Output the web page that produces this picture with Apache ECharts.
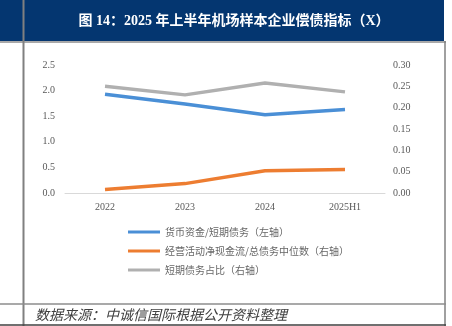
<!DOCTYPE html>
<html><head><meta charset="utf-8">
<script src="https://cdn.jsdelivr.net/npm/echarts@6/dist/echarts.min.js"></script>
<style>html,body{margin:0;padding:0;background:#fff}#c{width:452px;height:326px}</style>
</head><body><div id="c"></div>
<script>
const categories = ['2022', '2023', '2024', '2025H1'];
const cashToShortDebt = [1.93, 1.74, 1.53, 1.63];
const opCashToTotalDebt = [0.008, 0.022, 0.052, 0.055];
const shortDebtShare = [0.250, 0.230, 0.258, 0.237];
const seriesNames = ['货币资金/短期债务（左轴）', '经营活动净现金流/总债务中位数（右轴）', '短期债务占比（右轴）'];
const titleText = '图 14：2025 年上半年机场样本企业偿债指标（X）';
const sourceText = '数据来源：中诚信国际根据公开资料整理';

const chart = echarts.init(document.getElementById('c'));
const serif = '"Liberation Serif","Noto Sans CJK SC",serif';
const cjk = '"Noto Sans CJK SC",sans-serif';
chart.setOption({
  animation: false,
  grid: {left: 65, right: 67, top: 65, bottom: 133},
  graphic: [
    {type: 'rect', shape: {x: 0, y: 0, width: 444, height: 41}, style: {fill: '#043670'}},
    {type: 'line', shape: {x1: 0, y1: 42, x2: 446, y2: 42}, style: {stroke: '#8c8c8c', lineWidth: 1.5}},
    {type: 'line', shape: {x1: 23.5, y1: 0, x2: 23.5, y2: 326}, style: {stroke: '#808080', lineWidth: 2}},
    {type: 'line', shape: {x1: 445, y1: 41, x2: 445, y2: 326}, style: {stroke: '#808080', lineWidth: 1.5}},
    {type: 'line', shape: {x1: 0, y1: 304, x2: 446, y2: 304}, style: {stroke: '#8c8c8c', lineWidth: 1.5}},
    {type: 'line', shape: {x1: 0, y1: 325, x2: 446, y2: 325}, style: {stroke: '#404040', lineWidth: 1.5}},
    {type: 'text', x: 234, y: 21, style: {text: titleText, fill: '#fff', font: 'bold 14px ' + serif, align: 'center', verticalAlign: 'middle'}},
    {type: 'text', x: 35, y: 315, style: {text: sourceText, fill: '#404040', font: 'italic 14px ' + cjk, align: 'left', verticalAlign: 'middle'}}
  ],
  legend: {
    orient: 'vertical', left: 123, top: 221, itemWidth: 32, itemHeight: 3, itemGap: 7,
    icon: 'rect',
    textStyle: {fontSize: 10, color: '#666666', fontFamily: cjk, lineHeight: 12},
    data: seriesNames
  },
  xAxis: {
    type: 'category', data: categories, boundaryGap: true,
    axisLine: {lineStyle: {color: '#d9d9d9', width: 1}}, axisTick: {show: false},
    axisLabel: {color: '#595959', fontSize: 10, fontFamily: serif, margin: 9}
  },
  yAxis: [
    {type: 'value', min: 0, max: 2.5, interval: 0.5, splitLine: {show: false},
     axisLabel: {color: '#595959', fontSize: 10, fontFamily: serif, margin: 10, formatter: v => v.toFixed(1)}},
    {type: 'value', min: 0, max: 0.3, interval: 0.05, splitLine: {show: false},
     axisLabel: {color: '#595959', fontSize: 10, fontFamily: serif, margin: 8, formatter: v => v.toFixed(2)}}
  ],
  series: [
    {name: seriesNames[0], type: 'line', yAxisIndex: 0, data: cashToShortDebt, showSymbol: false, lineStyle: {color: '#4a8fd6', width: 3.5}, itemStyle: {color: '#4a8fd6'}},
    {name: seriesNames[1], type: 'line', yAxisIndex: 1, data: opCashToTotalDebt, showSymbol: false, lineStyle: {color: '#ed7d31', width: 3.5}, itemStyle: {color: '#ed7d31'}},
    {name: seriesNames[2], type: 'line', yAxisIndex: 1, data: shortDebtShare, showSymbol: false, lineStyle: {color: '#b0b0b0', width: 3.5}, itemStyle: {color: '#b0b0b0'}}
  ]
});
</script></body></html>
